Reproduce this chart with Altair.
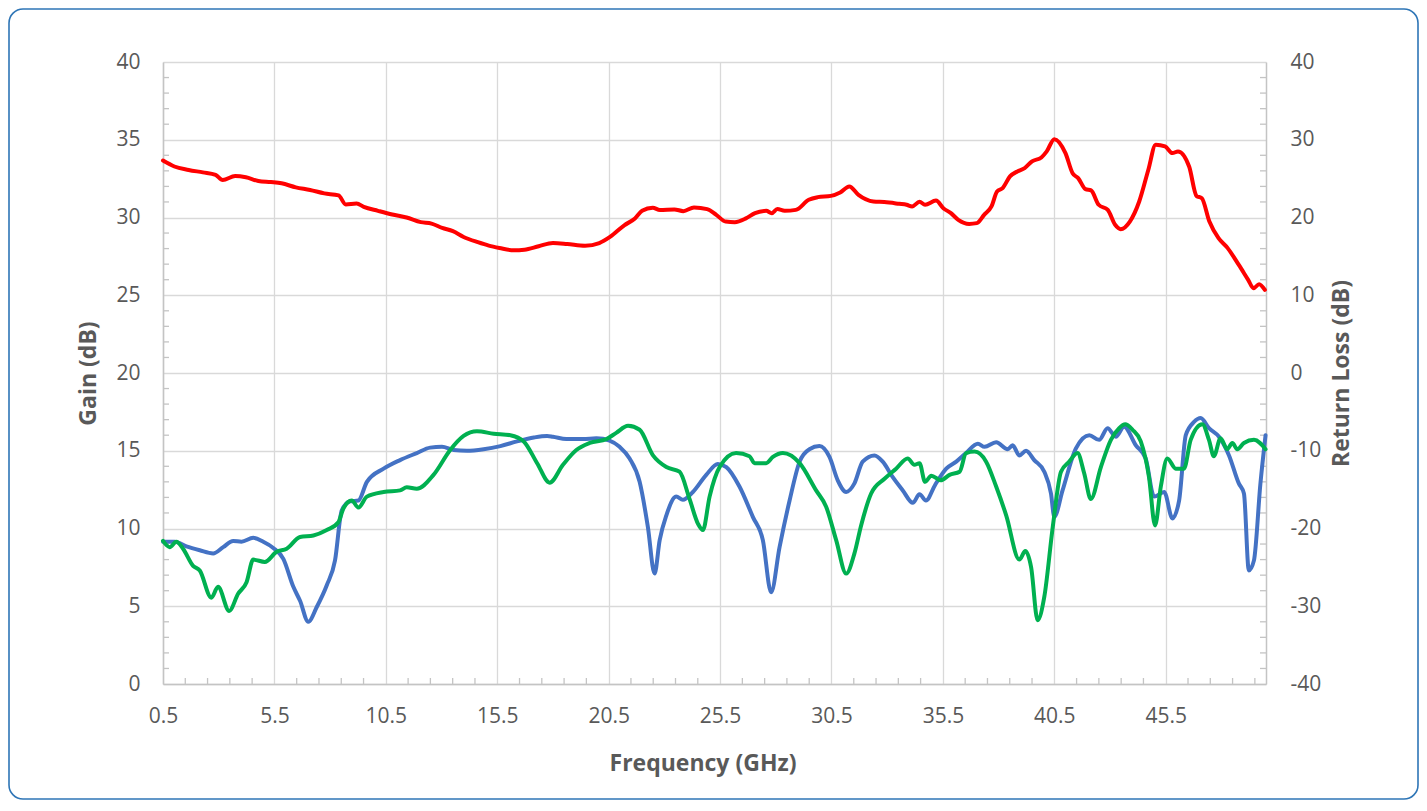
import altair as alt
import pandas as pd

# ---------------- data ----------------
gain_freq = [0.5, 1.01, 1.65, 2.29, 2.86, 3.18, 3.74, 4.22, 4.78, 5.34, 5.82, 6.46, 7.1, 7.74,
             8.38, 8.7, 9.19, 9.51, 10.15, 10.79, 11.43, 12.07, 12.55, 13.03, 13.51, 13.99,
             14.63, 15.12, 15.6, 16.24, 16.72, 17.36, 18.0, 18.64, 19.44, 20.08, 20.56, 21.2,
             21.68, 22.0, 22.48, 22.8, 23.45, 23.85, 24.33, 24.92, 25.33, 25.75, 26.16, 26.66,
             27.07, 27.57, 27.82, 28.07, 28.4, 28.9, 29.48, 29.89, 30.47, 30.89, 31.3, 31.71,
             32.38, 32.87, 33.54, 33.87, 34.12, 34.45, 34.7, 35.19, 35.52, 35.86, 36.19, 36.68,
             37.02, 37.35, 37.68, 37.93, 38.18, 38.51, 38.84, 39.17, 39.5, 39.92, 40.16, 40.5,
             41.0, 41.32, 41.57, 41.9, 42.15, 42.49, 42.9, 43.23, 43.48, 43.89, 44.31, 44.72,
             45.05, 45.47, 45.8, 46.05, 46.55, 46.88, 47.12, 47.46, 47.87, 48.28, 48.78, 49.2,
             49.44, 49.69, 49.95]
gain_db = [33.66, 33.28, 33.06, 32.9, 32.74, 32.41, 32.67, 32.59, 32.35, 32.28, 32.2, 31.94,
           31.77, 31.55, 31.42, 30.84, 30.9, 30.69, 30.43, 30.19, 30.0, 29.7, 29.61, 29.33,
           29.12, 28.75, 28.41, 28.19, 28.04, 27.89, 27.93, 28.15, 28.36, 28.3, 28.19, 28.36,
           28.75, 29.5, 29.94, 30.43, 30.63, 30.48, 30.52, 30.41, 30.65, 30.54, 30.17, 29.74,
           29.7, 29.94, 30.28, 30.43, 30.28, 30.54, 30.43, 30.49, 31.14, 31.31, 31.39, 31.61,
           32.0, 31.46, 31.03, 30.99, 30.88, 30.82, 30.71, 31.01, 30.82, 31.09, 30.6, 30.28,
           29.85, 29.59, 29.64, 30.17, 30.71, 31.67, 31.89, 32.64, 32.96, 33.18, 33.61, 33.86,
           34.25, 35.04, 34.14, 32.85, 32.53, 31.82, 31.74, 30.82, 30.49, 29.53, 29.25, 29.74,
           31.03, 33.07, 34.68, 34.57, 34.14, 34.25, 33.28, 31.39, 31.24, 29.74, 28.67, 28.03,
           26.95, 25.99, 25.45, 25.71, 25.34]

rl_blue_freq = [0.5, 1.02, 1.55, 2.15, 2.75, 3.2, 3.65, 4.02, 4.55, 5.0, 5.45, 5.9, 6.35, 6.65,
                7.02, 7.4, 7.85, 8.22, 8.52, 8.9, 9.27, 9.65, 10.4, 11.14, 11.89, 12.49, 13.02,
                13.54, 14.14, 14.89, 15.64, 16.39, 17.14, 17.74, 18.0, 18.6, 19.35, 19.95, 20.54,
                20.99, 21.44, 21.89, 22.26, 22.56, 22.79, 23.09, 23.53, 23.83, 24.28, 24.88,
                25.4, 25.78, 26.37, 26.97, 27.42, 27.79, 28.17, 28.62, 29.07, 29.51, 29.96,
                30.41, 30.78, 31.16, 31.53, 31.9, 32.43, 32.8, 33.25, 33.7, 34.15, 34.45, 34.74,
                35.15, 35.65, 36.1, 36.54, 37.07, 37.37, 37.89, 38.41, 38.63, 38.93, 39.23,
                39.6, 40.05, 40.35, 40.5, 40.87, 41.47, 42.07, 42.51, 42.89, 43.26, 43.63,
                44.16, 44.6, 44.98, 45.43, 45.8, 46.1, 46.4, 46.77, 47.07, 47.44, 47.89, 48.34,
                48.78, 49.01, 49.23, 49.46, 49.75, 49.98]
rl_blue_db = [-21.7, -21.7, -22.3, -22.8, -23.2, -22.4, -21.6, -21.7, -21.2, -21.7, -22.5,
              -23.9, -27.5, -29.3, -32.0, -30.1, -27.3, -24.1, -17.7, -16.5, -16.4, -14.0,
              -12.3, -11.2, -10.3, -9.6, -9.5, -9.9, -10.0, -9.8, -9.4, -8.8, -8.3, -8.1, -8.2,
              -8.5, -8.5, -8.4, -8.7, -9.5, -11.0, -14.0, -19.8, -25.8, -21.5, -18.3, -15.9,
              -16.3, -15.3, -13.1, -11.7, -12.1, -14.6, -18.5, -21.5, -28.2, -22.4, -16.4,
              -11.4, -9.8, -9.4, -10.8, -13.8, -15.3, -14.2, -11.4, -10.6, -11.4, -13.4, -15.1,
              -16.7, -15.6, -16.4, -14.4, -12.3, -11.4, -10.3, -9.1, -9.5, -8.9, -9.8, -9.3,
              -10.6, -10.0, -11.2, -12.7, -15.5, -18.5, -15.1, -9.7, -8.0, -8.6, -7.1, -8.2,
              -6.9, -9.3, -11.0, -15.9, -15.3, -18.7, -16.4, -8.0, -6.3, -5.8, -7.1, -8.2,
              -10.6, -14.2, -15.5, -25.4, -24.1, -14.2, -8.0]

rl_green_freq = [0.5, 0.8, 1.1, 1.4, 1.85, 2.15, 2.67, 2.97, 3.47, 3.87, 4.25, 4.55, 5.07, 5.6,
                 6.05, 6.65, 7.25, 7.85, 8.37, 8.6, 8.97, 9.27, 9.65, 10.4, 11.14, 11.44, 11.89,
                 12.64, 13.39, 13.99, 14.59, 15.34, 16.09, 16.69, 17.29, 17.85, 18.45, 19.05,
                 19.65, 20.4, 20.84, 21.37, 21.89, 22.49, 23.09, 23.68, 24.13, 24.51, 24.73,
                 25.03, 25.48, 26.22, 26.82, 27.05, 27.57, 27.87, 28.32, 29.07, 29.81, 30.26,
                 30.71, 31.16, 31.53, 31.83, 32.28, 32.88, 33.4, 33.92, 34.22, 34.45, 34.7,
                 34.98, 35.4, 35.8, 36.25, 36.54, 36.92, 37.44, 37.89, 38.34, 38.93, 39.2,
                 39.46, 39.75, 40.05, 40.43, 40.8, 41.17, 41.54, 41.84, 42.14, 42.59, 43.04,
                 43.41, 43.68, 44.01, 44.38, 44.75, 45.02, 45.28, 45.57, 45.95, 46.32, 46.62,
                 47.14, 47.44, 47.66, 47.96, 48.26, 48.49, 48.71, 49.01, 49.46, 49.98]
rl_green_db = [-21.6, -22.4, -21.7, -22.6, -24.8, -25.4, -28.9, -27.5, -30.6, -28.4, -26.9,
               -24.0, -24.3, -23.0, -22.6, -21.1, -20.9, -20.2, -19.2, -17.4, -16.4, -17.3,
               -15.9, -15.3, -15.1, -14.7, -14.9, -13.1, -9.9, -8.1, -7.5, -7.8, -8.0, -8.8,
               -11.6, -14.1, -11.8, -9.9, -9.0, -8.5, -7.7, -6.8, -7.3, -10.6, -12.1, -12.7,
               -16.2, -19.4, -20.2, -15.9, -12.1, -10.3, -10.7, -11.6, -11.6, -10.8, -10.3,
               -11.6, -15.1, -17.2, -21.5, -25.8, -23.2, -19.6, -15.5, -13.6, -12.3, -11.0,
               -11.8, -11.6, -14.0, -13.2, -13.8, -13.1, -12.7, -10.3, -10.1, -11.4, -14.6,
               -18.3, -24.0, -22.9, -25.0, -31.8, -28.8, -19.8, -12.7, -11.4, -10.3, -12.9,
               -16.2, -12.1, -8.6, -7.1, -6.6, -7.3, -8.8, -13.4, -19.6, -14.6, -11.0, -12.3,
               -12.3, -8.6, -6.6, -8.6, -10.7, -8.4, -9.8, -9.0, -9.8, -9.0, -8.6, -9.8]

x_ticks = [0.5, 5.5, 10.5, 15.5, 20.5, 25.5, 30.5, 35.5, 40.5, 45.5]
gain_ticks = [0, 5, 10, 15, 20, 25, 30, 35, 40]
rl_ticks = [-40, -30, -20, -10, 0, 10, 20, 30, 40]
x_minor = [v + 0.5 for v in range(1, 50) if v % 5 != 0]
gain_minor = [v for v in range(1, 40) if v % 5 != 0]

# ---------------- style ----------------
W, H = 1103, 622
GRID = "#D9D9D9"
AXC = "#C4C4C4"
TXT = "#595959"
FONT = "Open Sans"
LW = 4.0

xscale = alt.Scale(domain=[0.5, 50], nice=False, zero=False)
gscale = alt.Scale(domain=[0, 40], nice=False, zero=False)
rscale = alt.Scale(domain=[-40, 40], nice=False, zero=False)

common = dict(labelFont=FONT, labelFontSize=21, labelColor=TXT, titleFont=FONT,
              titleFontSize=23, titleFontWeight="bold", titleColor=TXT,
              domainColor=AXC, domainWidth=1.5, ticks=False, labelFlush=False,
              labelOverlap=False)

xaxis = alt.Axis(values=x_ticks, format=".1f", title="Frequency (GHz)", grid=True,
                 gridColor=GRID, gridWidth=1.3, labelPadding=21, titleX=W / 2 - 12,
                 titleY=79, titleAlign="center", titleBaseline="middle", **common)
gaxis = alt.Axis(values=gain_ticks, title="Gain (dB)", orient="left", grid=True,
                 gridColor=GRID, gridWidth=1.3, labelPadding=23, titleAngle=270,
                 titleX=-75, titleY=H / 2, titleAlign="center", titleBaseline="middle",
                 **common)
raxis = alt.Axis(values=rl_ticks, title="Return Loss (dB)", orient="right", grid=False,
                 labelPadding=24, labelExpr="'' + datum.value", titleAngle=270,
                 titleX=75, titleY=H / 2, titleAlign="center", titleBaseline="middle",
                 **common)

gain_df = pd.DataFrame({"freq": gain_freq, "val": gain_db})
blue_df = pd.DataFrame({"freq": rl_blue_freq, "rl": rl_blue_db})
green_df = pd.DataFrame({"freq": rl_green_freq, "rl": rl_green_db})
xminor_df = pd.DataFrame({"freq": x_minor})
gminor_df = pd.DataFrame({"val": gain_minor})

X = alt.X("freq:Q", scale=xscale, axis=xaxis)
YG = alt.Y("val:Q", scale=gscale, axis=gaxis)
YR = alt.Y("rl:Q", scale=rscale, axis=raxis)

red = alt.Chart(gain_df).mark_line(
    color="#FF0000", strokeWidth=LW, interpolate="monotone", strokeJoin="round", strokeCap="round"
).encode(x=X, y=YG)

tick_style = dict(color=AXC, strokeWidth=1.3)
minor_bottom = alt.Chart(xminor_df).mark_rule(**tick_style).encode(
    x=X, y=alt.value(H), y2=alt.value(H - 6)
)
minor_left = alt.Chart(gminor_df).mark_rule(**tick_style).encode(
    y=YG, x=alt.value(0), x2=alt.value(6)
)
minor_right = alt.Chart(gminor_df).mark_rule(**tick_style).encode(
    y=YG, x=alt.value(W - 6), x2=alt.value(W)
)
frame = alt.Chart(pd.DataFrame({"k": [0]})).mark_rect(
    fillOpacity=0, stroke="#2E75B6", strokeWidth=1.6, cornerRadius=14
).encode(x=alt.value(-154), x2=alt.value(W + 152), y=alt.value(-53), y2=alt.value(H + 115))

gain_group = alt.layer(red, minor_bottom, minor_left, minor_right, frame)

blue = alt.Chart(blue_df).mark_line(
    color="#4472C4", strokeWidth=LW, interpolate="monotone", strokeJoin="round", strokeCap="round"
).encode(x=X, y=YR)
green = alt.Chart(green_df).mark_line(
    color="#00B050", strokeWidth=LW, interpolate="monotone", strokeJoin="round", strokeCap="round"
).encode(x=X, y=YR)
rl_group = alt.layer(blue, green)

chart = alt.layer(gain_group, rl_group).resolve_scale(y="independent").properties(
    width=W, height=H,
    autosize=alt.AutoSizeParams(type="none"),
    padding={"left": 155, "top": 54, "right": 153, "bottom": 116},
    background="white",
).configure_view(strokeWidth=0)

chart.save("out.html", embed_options={"renderer": "svg", "actions": False})
